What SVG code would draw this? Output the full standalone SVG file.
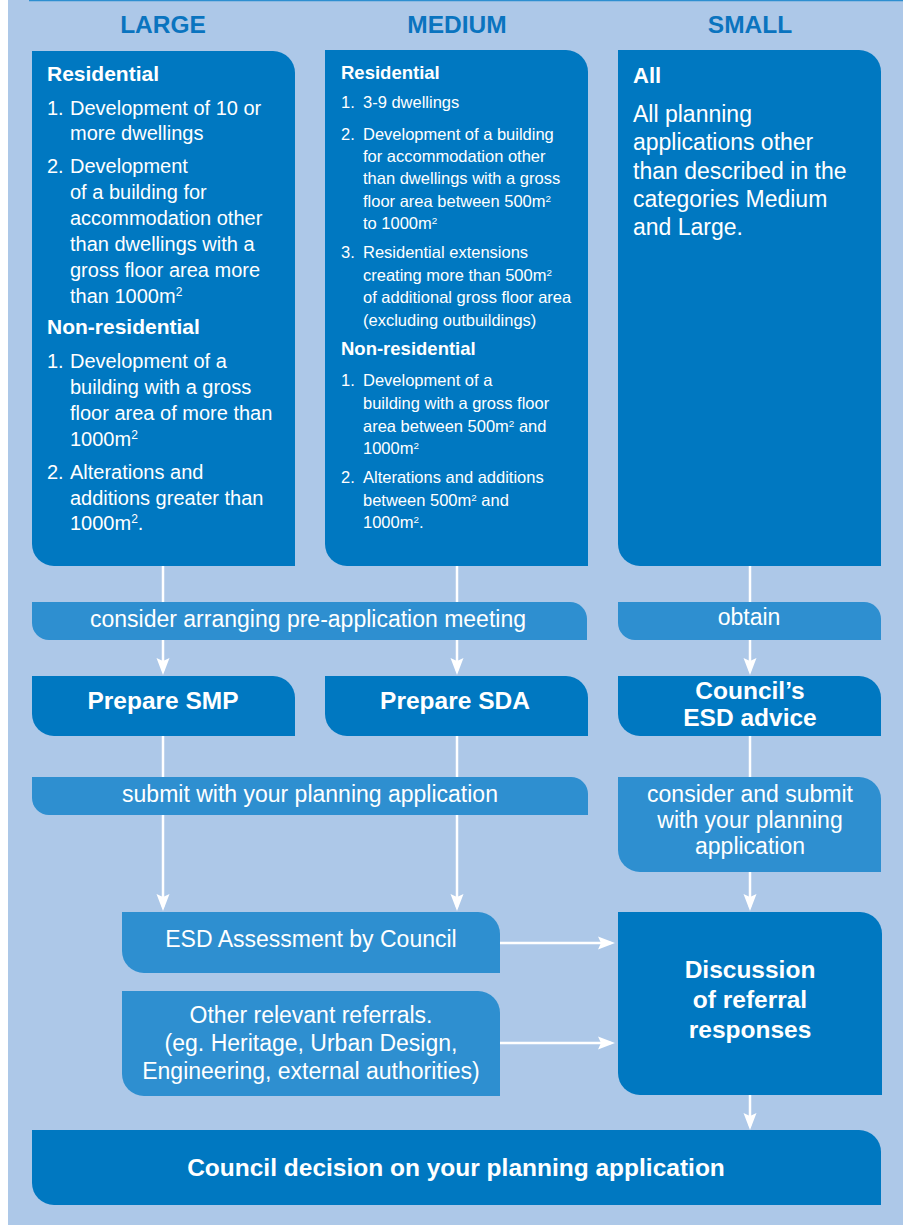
<svg xmlns="http://www.w3.org/2000/svg" width="903" height="1225" viewBox="0 0 903 1225">
<defs>
<style>
.bg{fill:#adc8e8}
.dark{fill:#0078c1}
.light{fill:#2e8fd0}
.hdr{font-family:"Liberation Sans",Arial,sans-serif;font-weight:bold;font-size:24.5px;fill:#0a74bf;text-anchor:middle}
.t{font-family:"Liberation Sans",Arial,sans-serif;fill:#ffffff}
.b{font-weight:bold}
.c{text-anchor:middle}
.l20{font-size:20px}
.l16{font-size:16.5px}
.l23{font-size:23px}
.h21{font-size:21px;font-weight:bold}
.h18{font-size:18.5px;font-weight:bold}
.bold24{font-size:24.5px;font-weight:bold}
.sup{font-size:60%;baseline-shift:super}
.conn{stroke:#ffffff;stroke-width:2.5;fill:none}
</style>
<marker id="ah" markerUnits="userSpaceOnUse" markerWidth="22" markerHeight="16" viewBox="-18 -8 22 16" refX="-4" refY="0" orient="auto">
<path d="M0,0 L-17,-6.5 L-14,0 L-17,6.5 Z" fill="#ffffff"/>
</marker>
</defs>

<rect class="bg" x="8" y="0" width="895" height="1225"/>
<line x1="29" y1="0.5" x2="903" y2="0.5" stroke="#2e8fd0" stroke-width="1.5"/>

<g id="headers">
<text class="hdr" x="163" y="33">LARGE</text>
<text class="hdr" x="457" y="33">MEDIUM</text>
<text class="hdr" x="750" y="33">SMALL</text>
</g>

<g id="connectors">
<line class="conn" x1="163" y1="566" x2="163" y2="671" marker-end="url(#ah)"/>
<line class="conn" x1="457" y1="566" x2="457" y2="671" marker-end="url(#ah)"/>
<line class="conn" x1="750" y1="566" x2="750" y2="671" marker-end="url(#ah)"/>
<line class="conn" x1="163" y1="736" x2="163" y2="907" marker-end="url(#ah)"/>
<line class="conn" x1="457" y1="736" x2="457" y2="907" marker-end="url(#ah)"/>
<line class="conn" x1="750" y1="736" x2="750" y2="907" marker-end="url(#ah)"/>
<line class="conn" x1="500" y1="943" x2="611" y2="943" marker-end="url(#ah)"/>
<line class="conn" x1="500" y1="1043" x2="611" y2="1043" marker-end="url(#ah)"/>
<line class="conn" x1="750" y1="1095" x2="750" y2="1126" marker-end="url(#ah)"/>
</g>

<g id="large">
<path class="dark" d="M32,51 H273 A22,22 0 0 1 295,73 V566 H54 A22,22 0 0 1 32,544 Z"/>
<text class="t h21" x="47" y="81">Residential</text>
<g class="t l20">
<text x="47" y="115">1.</text><text x="70" y="115">Development of 10 or</text>
<text x="70" y="140">more dwellings</text>
<text x="47" y="173">2.</text><text x="70" y="173">Development</text>
<text x="70" y="199">of a building for</text>
<text x="70" y="225">accommodation other</text>
<text x="70" y="251">than dwellings with a</text>
<text x="70" y="277">gross floor area more</text>
<text x="70" y="303">than 1000m<tspan class="sup">2</tspan></text>
</g>
<text class="t h21" x="47" y="334">Non-residential</text>
<g class="t l20">
<text x="47" y="368">1.</text><text x="70" y="368">Development of a</text>
<text x="70" y="394">building with a gross</text>
<text x="70" y="420">floor area of more than</text>
<text x="70" y="446">1000m<tspan class="sup">2</tspan></text>
<text x="47" y="479">2.</text><text x="70" y="479">Alterations and</text>
<text x="70" y="505">additions greater than</text>
<text x="70" y="530">1000m<tspan class="sup">2</tspan>.</text>
</g>
</g>

<g id="medium">
<path class="dark" d="M325,50 H566 A22,22 0 0 1 588,72 V566 H347 A22,22 0 0 1 325,544 Z"/>
<text class="t h18" x="341" y="79">Residential</text>
<g class="t l16">
<text x="341" y="108">1.</text><text x="363" y="108">3-9 dwellings</text>
<text x="341" y="140">2.</text><text x="363" y="140">Development of a building</text>
<text x="363" y="162">for accommodation other</text>
<text x="363" y="184">than dwellings with a gross</text>
<text x="363" y="207">floor area between 500m<tspan class="sup">2</tspan></text>
<text x="363" y="229">to 1000m<tspan class="sup">2</tspan></text>
<text x="341" y="258">3.</text><text x="363" y="258">Residential extensions</text>
<text x="363" y="281">creating more than 500m<tspan class="sup">2</tspan></text>
<text x="363" y="303">of additional gross floor area</text>
<text x="363" y="326">(excluding outbuildings)</text>
</g>
<text class="t h18" x="341" y="355">Non-residential</text>
<g class="t l16">
<text x="341" y="386">1.</text><text x="363" y="386">Development of a</text>
<text x="363" y="409">building with a gross floor</text>
<text x="363" y="432">area between 500m<tspan class="sup">2</tspan><tspan> and</tspan></text>
<text x="363" y="454">1000m<tspan class="sup">2</tspan></text>
<text x="341" y="483">2.</text><text x="363" y="483">Alterations and additions</text>
<text x="363" y="506">between 500m<tspan class="sup">2</tspan><tspan> and</tspan></text>
<text x="363" y="528">1000m<tspan class="sup">2</tspan>.</text>
</g>
</g>

<g id="small">
<path class="dark" d="M618,50 H859 A22,22 0 0 1 881,72 V566 H640 A22,22 0 0 1 618,544 Z"/>
<text class="t" x="633" y="83" style="font-size:22px;font-weight:bold">All</text>
<g class="t l23">
<text x="633" y="122">All planning</text>
<text x="633" y="150">applications other</text>
<text x="633" y="179">than described in the</text>
<text x="633" y="207">categories Medium</text>
<text x="633" y="235">and Large.</text>
</g>
</g>

<g id="bar-preapp">
<path class="light" d="M32,602 H570 A17,17 0 0 1 587,619 V640 H49 A17,17 0 0 1 32,623 Z"/>
<text class="t l23 c" x="308" y="627">consider arranging pre-application meeting</text>
</g>

<g id="bar-obtain">
<path class="light" d="M618,602 H864 A17,17 0 0 1 881,619 V640 H635 A17,17 0 0 1 618,623 Z"/>
<text class="t l23 c" x="749" y="625">obtain</text>
</g>

<g id="prepare-smp">
<path class="dark" d="M32,676 H273 A22,22 0 0 1 295,698 V736 H54 A22,22 0 0 1 32,714 Z"/>
<text class="t bold24 c" x="163" y="709">Prepare SMP</text>
</g>

<g id="prepare-sda">
<path class="dark" d="M325,676 H566 A22,22 0 0 1 588,698 V736 H347 A22,22 0 0 1 325,714 Z"/>
<text class="t bold24 c" x="455" y="709">Prepare SDA</text>
</g>

<g id="esd-advice">
<path class="dark" d="M618,676 H859 A22,22 0 0 1 881,698 V736 H640 A22,22 0 0 1 618,714 Z"/>
<text class="t bold24 c" x="750" y="699">Council’s</text>
<text class="t bold24 c" x="750" y="726">ESD advice</text>
</g>

<g id="bar-submit">
<path class="light" d="M32,777 H571 A17,17 0 0 1 588,794 V815 H49 A17,17 0 0 1 32,798 Z"/>
<text class="t l23 c" x="310" y="802">submit with your planning application</text>
</g>

<g id="bar-consider-submit">
<path class="light" d="M618,777 H859 A22,22 0 0 1 881,799 V872 H640 A22,22 0 0 1 618,850 Z"/>
<text class="t l23 c" x="750" y="802">consider and submit</text>
<text class="t l23 c" x="750" y="828">with your planning</text>
<text class="t l23 c" x="750" y="854">application</text>
</g>

<g id="esd-assessment">
<path class="light" d="M122,912 H478 A22,22 0 0 1 500,934 V973 H144 A22,22 0 0 1 122,951 Z"/>
<text class="t l23 c" x="311" y="947">ESD Assessment by Council</text>
</g>

<g id="other-referrals">
<path class="light" d="M122,991 H478 A22,22 0 0 1 500,1013 V1096 H144 A22,22 0 0 1 122,1074 Z"/>
<text class="t l23 c" x="311" y="1023">Other relevant referrals.</text>
<text class="t l23 c" x="311" y="1051">(eg. Heritage, Urban Design,</text>
<text class="t l23 c" x="311" y="1079">Engineering, external authorities)</text>
</g>

<g id="discussion">
<path class="dark" d="M618,912 H860 A22,22 0 0 1 882,934 V1095 H640 A22,22 0 0 1 618,1073 Z"/>
<text class="t bold24 c" x="750" y="978">Discussion</text>
<text class="t bold24 c" x="750" y="1008">of referral</text>
<text class="t bold24 c" x="750" y="1038">responses</text>
</g>

<g id="decision">
<path class="dark" d="M32,1130 H859 A22,22 0 0 1 881,1152 V1205 H54 A22,22 0 0 1 32,1183 Z"/>
<text class="t bold24 c" x="456" y="1176">Council decision on your planning application</text>
</g>
</svg>
